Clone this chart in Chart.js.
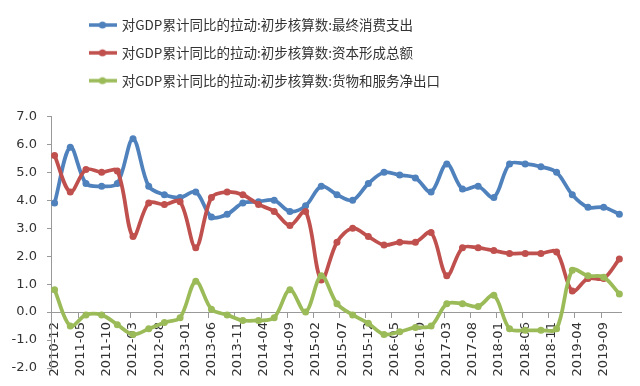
<!DOCTYPE html>
<html><head><meta charset="utf-8">
<script src="https://cdn.jsdelivr.net/npm/chart.js@4/dist/chart.umd.min.js"></script>
<style>html,body{margin:0;padding:0;background:#fff}#wrap{width:640px;height:386px}</style>
</head><body><div id="wrap"><canvas id="c" width="640" height="386"></canvas></div>
<script>
// ---- data ----
const quarters = ['2010-12','2011-03','2011-06','2011-09','2011-12','2012-03','2012-06','2012-09','2012-12',
  '2013-03','2013-06','2013-09','2013-12','2014-03','2014-06','2014-09','2014-12',
  '2015-03','2015-06','2015-09','2015-12','2016-03','2016-06','2016-09','2016-12',
  '2017-03','2017-06','2017-09','2017-12','2018-03','2018-06','2018-09','2018-12',
  '2019-03','2019-06','2019-09','2019-12'];
const tickLabels = ['2010-12','2011-05','2011-10','2012-03','2012-08','2013-01','2013-06','2013-11',
  '2014-04','2014-09','2015-02','2015-07','2015-12','2016-05','2016-10','2017-03','2017-08',
  '2018-01','2018-06','2018-11','2019-04','2019-09'];
const yTicks = [-2, -1, 0, 1, 2, 3, 4, 5, 6, 7];
const seriesNames = ['对GDP累计同比的拉动:初步核算数:最终消费支出',
  '对GDP累计同比的拉动:初步核算数:资本形成总额',
  '对GDP累计同比的拉动:初步核算数:货物和服务净出口'];
const finalConsumption = [3.9,5.9,4.6,4.5,4.6,6.2,4.5,4.2,4.1,4.3,3.4,3.5,3.9,3.95,4.0,3.6,3.8,
  4.5,4.2,4.0,4.6,5.0,4.9,4.8,4.3,5.3,4.4,4.5,4.1,5.3,5.3,5.2,5.0,4.2,3.75,3.75,3.5];
const capitalFormation = [5.6,4.3,5.1,5.0,5.05,2.7,3.9,3.85,3.95,2.3,4.1,4.3,4.2,3.85,3.6,3.1,3.6,
  1.15,2.5,3.0,2.7,2.4,2.5,2.5,2.85,1.3,2.3,2.3,2.2,2.1,2.1,2.1,2.15,0.75,1.2,1.2,1.9];
const netExports = [0.8,-0.5,-0.1,-0.1,-0.45,-0.8,-0.6,-0.37,-0.2,1.1,0.1,-0.1,-0.3,-0.3,-0.2,0.8,0.0,
  1.3,0.3,-0.1,-0.4,-0.8,-0.7,-0.55,-0.5,0.3,0.3,0.2,0.6,-0.6,-0.65,-0.65,-0.6,1.5,1.3,1.25,0.65];
const colors = ['#4F81BD', '#C0504D', '#9BBB59'];

// ---- monthly category axis built from the first / last quarter ----
const months = [];
{
  let [y, m] = quarters[0].split('-').map(Number);
  const [ey, em] = quarters[quarters.length - 1].split('-').map(Number);
  while (y < ey || (y === ey && m <= em)) {
    months.push(y + '-' + String(m).padStart(2, '0'));
    m++; if (m > 12) { m = 1; y++; }
  }
}
const toPoints = vals => quarters.map((q, i) => ({x: q, y: vals[i]}));
const seriesValues = [finalConsumption, capitalFormation, netExports];

function legendMarker(color) {
  const c = document.createElement('canvas');
  c.width = 28; c.height = 10;
  const g = c.getContext('2d');
  g.strokeStyle = color; g.lineWidth = 3.5;
  g.beginPath(); g.moveTo(0, 5); g.lineTo(28, 5); g.stroke();
  g.fillStyle = color;
  g.beginPath(); g.arc(14, 5, 3.6, 0, Math.PI * 2); g.fill();
  return c;
}
const markers = colors.map(legendMarker);

const LEGEND_X = 90, LEGEND_GAP = 19;
const legendTweak = {
  id: 'legendTweak',
  beforeInit(chart) {
    const lg = chart.legend;
    if (lg && !lg._gapPatched) {
      const f = lg.fit;
      lg.fit = function () { f.call(this); this.height += LEGEND_GAP; };
      lg._gapPatched = true;
    }
  },
  afterLayout(chart) {
    const lg = chart.legend;
    const pad = lg.options.labels.padding;
    const dx = LEGEND_X - (lg.left + pad);
    lg.left += dx; lg.right += dx;
  }
};

const axisFont = {family: "'DejaVu Sans'", size: 13};
new Chart(document.getElementById('c'), {
  type: 'line',
  data: {
    labels: months,
    datasets: seriesValues.map((vals, i) => ({
      label: seriesNames[i],
      data: toPoints(vals),
      borderColor: colors[i],
      backgroundColor: colors[i],
      borderWidth: 3.75,
      pointRadius: 3.5,
      pointBorderWidth: 0,
      pointBackgroundColor: colors[i],
      tension: 0.33,
      spanGaps: true,
      fill: false,
      order: 3 - i
    }))
  },
  options: {
    responsive: false,
    animation: false,
    devicePixelRatio: 1,
    layout: {padding: {top: 4, left: 1.6, right: 10, bottom: 18}},
    plugins: {
      tooltip: {enabled: false},
      legend: {
        position: 'top',
        align: 'start',
        labels: {
          usePointStyle: true,
          pointStyleWidth: 25,
          padding: 14.3,
          color: '#333',
          font: {family: "'Noto Sans CJK SC'", size: 13.5},
          sort: (a, b) => a.datasetIndex - b.datasetIndex,
          generateLabels(chart) {
            const items = Chart.defaults.plugins.legend.labels.generateLabels(chart);
            items.forEach(it => { it.pointStyle = markers[it.datasetIndex]; });
            return items;
          }
        }
      }
    },
    scales: {
      x: {
        type: 'category',
        position: {y: 0},
        offset: true,
        grid: {
          offset: true,
          drawOnChartArea: false,
          drawTicks: true,
          tickLength: 5,
          color: ctx => tickLabels.includes(months[ctx.index]) ? '#999' : 'rgba(0,0,0,0)'
        },
        border: {color: '#999', width: 1},
        ticks: {
          autoSkip: false,
          maxRotation: 90,
          minRotation: 90,
          padding: 5,
          color: '#333',
          font: axisFont,
          callback: function (v) {
            const l = this.getLabelForValue(v);
            return tickLabels.includes(l) ? l : '';
          }
        }
      },
      y: {
        min: yTicks[0],
        max: yTicks[yTicks.length - 1],
        afterBuildTicks: scale => { scale.ticks = yTicks.map(v => ({value: v})); },
        grid: {drawOnChartArea: false, tickLength: 5, color: '#999'},
        border: {color: '#999', width: 1},
        ticks: {
          padding: 10,
          color: '#333',
          font: axisFont,
          callback: v => v.toFixed(1)
        }
      }
    }
  },
  plugins: [legendTweak]
});
</script>
</body></html>
